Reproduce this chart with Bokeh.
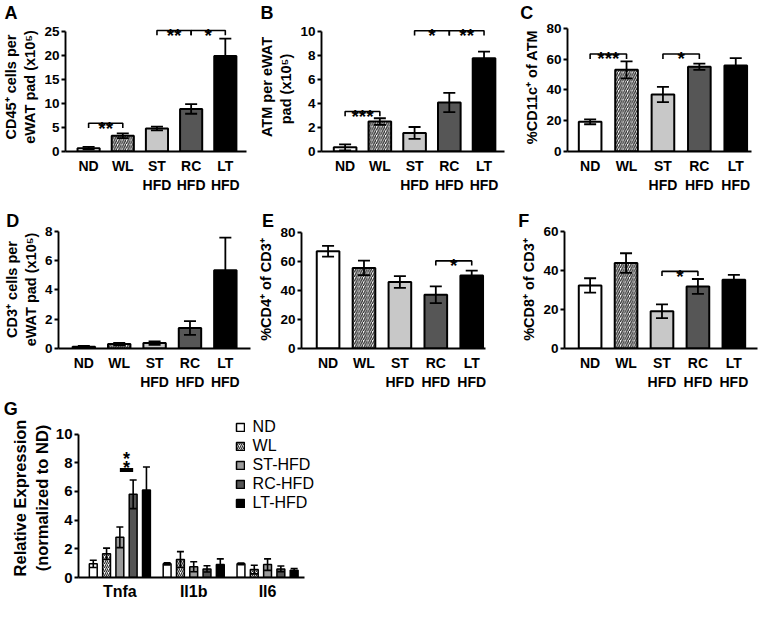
from bokeh.plotting import figure
from bokeh.models import (ColumnDataSource, FixedTicker, Legend, LegendItem,
                          Range1d, TeeHead, Whisker)
from bokeh.layouts import column, row
from bokeh.embed import file_html
from bokeh.resources import INLINE
from bokeh.core.properties import value

# ---------------- data ----------------
groups = ["ND", "WL", "ST-HFD", "RC-HFD", "LT-HFD"]
group_ticks = ["ND", "WL", "ST\nHFD", "RC\nHFD", "LT\nHFD"]

a_vals = [0.7, 3.3, 4.8, 8.9, 20.0]
a_err = [0.25, 0.5, 0.4, 1.0, 3.6]
a_yticks = [0, 5, 10, 15, 20, 25]
a_sig = [("ND", "WL", 5.9, "**"), ("ST-HFD", "RC-HFD", 25.3, "**"), ("RC-HFD", "LT-HFD", 25.3, "*")]

b_vals = [0.35, 2.5, 1.55, 4.1, 7.8]
b_err = [0.25, 0.28, 0.5, 0.8, 0.55]
b_yticks = [0, 2, 4, 6, 8, 10]
b_sig = [("ND", "WL", 3.35, "***"), ("ST-HFD", "RC-HFD", 10.1, "*"), ("RC-HFD", "LT-HFD", 10.1, "**")]

c_vals = [19.3, 53.0, 37.0, 55.0, 55.8]
c_err = [1.6, 5.5, 5.0, 2.0, 4.8]
c_yticks = [0, 20, 40, 60, 80]
c_sig = [("ND", "WL", 63.3, "***"), ("ST-HFD", "RC-HFD", 63.3, "*")]

d_vals = [0.12, 0.3, 0.37, 1.4, 5.35]
d_err = [0.06, 0.08, 0.12, 0.47, 2.22]
d_yticks = [0, 2, 4, 6, 8]
d_sig = []

e_vals = [67.0, 55.5, 45.8, 37.0, 50.2]
e_err = [3.7, 5.0, 4.0, 5.8, 3.4]
e_yticks = [0, 20, 40, 60, 80]
e_sig = [("RC-HFD", "LT-HFD", 60.3, "*")]

f_vals = [32.3, 43.8, 19.1, 31.8, 35.2]
f_err = [3.7, 5.0, 3.5, 3.8, 2.5]
f_yticks = [0, 20, 40, 60]
f_sig = [("ST-HFD", "RC-HFD", 39.5, "*")]

genes = ["Tnfa", "Il1b", "Il6"]
g_nd = [0.95, 0.95, 0.95]
g_nd_err = [0.25, 0.07, 0.06]
g_wl = [1.65, 1.25, 0.55]
g_wl_err = [0.4, 0.55, 0.3]
g_st = [2.8, 0.75, 0.9]
g_st_err = [0.72, 0.35, 0.4]
g_rc = [5.8, 0.6, 0.6]
g_rc_err = [1.0, 0.22, 0.2]
g_lt = [6.1, 0.9, 0.5]
g_lt_err = [1.6, 0.4, 0.13]
g_yticks = [0, 2, 4, 6, 8, 10]
g_sig = ("Tnfa", "ST-HFD", "RC-HFD", 7.5)
g_sig_stars = [8.75, 8.1]

# ---------------- styles ----------------
FONT = "Liberation Sans"
fill_af = {"ND": "#ffffff", "WL": "#ffffff", "ST-HFD": "#c8c8c8", "RC-HFD": "#565656", "LT-HFD": "#000000"}
fill_g = {"ND": "#ffffff", "WL": "#ffffff", "ST-HFD": "#9a9a9a", "RC-HFD": "#555555", "LT-HFD": "#000000"}
hatch_map = {"WL": "/"}


def R(x):
    return (x - 4) * 0.985


def RY(y):
    return (y - 3) * 0.98


def make_fig(geom, x0, x1, y_end):
    fx0, fy0, fx1, fy1 = geom["fig"]
    W = round(R(fx1) - R(fx0))
    H = round(RY(fy1) - RY(fy0))
    bl = round(R(geom["left"]) - R(fx0))
    fw = round(R(geom["right"]) - R(geom["left"]))
    bt = round(RY(geom["top"]) - RY(fy0))
    fh = round(RY(geom["y0"]) - RY(geom["top"]))
    p = figure(width=W, height=H, x_range=Range1d(x0, x1), y_range=Range1d(0, y_end),
               output_backend="svg", toolbar_location=None,
               min_border_left=bl, min_border_right=W - bl - fw,
               min_border_top=bt, min_border_bottom=H - bt - fh)
    p.outline_line_color = None
    p.grid.visible = False
    p.background_fill_color = "white"
    p.border_fill_color = "white"
    # panel letter as the figure title, shifted left onto the letter position
    p.title.text = geom["name"]
    p.title.align = "left"
    p.title.offset = R(geom["letter_x"]) - R(geom["left"])
    p.title.standoff = 0
    p.title.text_font = FONT
    p.title.text_font_style = "bold"
    p.title.text_font_size = "18px"
    p.title.text_color = "black"
    return p


def style_axes(p, yticks, ylabel, tick_fs, xlab_fs, ylab_fs, ylab_standoff=3):
    for ax in (p.xaxis[0], p.yaxis[0]):
        ax.axis_line_color = "black"
        ax.axis_line_width = 1.9
        ax.major_tick_line_color = "black"
        ax.major_tick_line_width = 1.9
        ax.minor_tick_line_color = None
        ax.major_label_text_font = FONT
        ax.major_label_text_font_style = "bold"
        ax.major_label_text_color = "black"
        ax.axis_label_text_font = FONT
        ax.axis_label_text_font_style = "bold"
        ax.axis_label_text_color = "black"
    ya = p.yaxis[0]
    ya.ticker = FixedTicker(ticks=yticks)
    ya.bounds = (0, yticks[-1])
    ya.major_tick_out = 4
    ya.major_tick_in = 0
    ya.major_label_standoff = 2
    ya.major_label_text_font_size = tick_fs
    ya.axis_label = ylabel
    ya.axis_label_text_font_size = ylab_fs
    ya.axis_label_standoff = ylab_standoff
    xa = p.xaxis[0]
    xa.major_tick_out = 0
    xa.major_tick_in = 0
    xa.major_label_standoff = 6
    xa.major_label_text_font_size = xlab_fs


def make_panel(name, ylabel, vals, errs, yticks, sigs, geom):
    s = geom["s"]
    c1 = geom["c1"]
    x0 = 1 + (geom["left"] - c1) / s
    x1 = 1 + (geom["right"] - c1) / s
    ymax = yticks[-1]
    y_end = ymax * (geom["y0"] - geom["top"]) / (geom["y0"] - geom["ymax_px"])
    geom = dict(geom, name=name)
    p = make_fig(geom, x0, x1, y_end)

    idx = {g: i + 1 for i, g in enumerate(groups)}
    src = ColumnDataSource(dict(
        x=[idx[g] for g in groups], top=vals,
        upper=[v + e for v, e in zip(vals, errs)],
        lower=[max(0, v - e) for v, e in zip(vals, errs)],
        fill=[fill_af[g] for g in groups],
        hatch=[hatch_map.get(g, " ") for g in groups]))
    p.vbar(x="x", top="top", bottom=0, width=23 / s, source=src, fill_color="fill",
           line_color="black", line_width=2, hatch_pattern="hatch",
           hatch_color="#2a2a2a", hatch_scale=4.5, hatch_weight=1.3)
    p.add_layout(Whisker(source=src, base="x", upper="upper", lower="lower", level="overlay",
                         line_color="black", line_width=1.8,
                         upper_head=TeeHead(size=12, line_width=1.8, line_color="black"),
                         lower_head=TeeHead(size=12, line_width=1.8, line_color="black")))
    if sigs:
        drop = 0.04 * ymax
        p.multi_line(xs=[[idx[a], idx[a], idx[b], idx[b]] for a, b, h, _ in sigs],
                     ys=[[h - drop, h, h, h - drop] for a, b, h, _ in sigs],
                     line_color="black", line_width=1.6)
        p.text(x=[(idx[a] + idx[b]) / 2 for a, b, h, _ in sigs], y=[h for a, b, h, _ in sigs],
               text=[t for a, b, h, t in sigs], text_align="center", text_baseline="alphabetic",
               y_offset=5, text_font=value(FONT), text_font_style="bold",
               text_font_size="19px", text_color="black")

    style_axes(p, yticks, ylabel, "13.5px", "14px", "14.5px")
    p.xaxis[0].ticker = FixedTicker(ticks=[idx[g] for g in groups])
    p.xaxis[0].major_label_overrides = {idx[g]: t for g, t in zip(groups, group_ticks)}
    return p


geoms = {
    "A": dict(fig=(4, 3, 258, 203), left=66, right=254, top=23, y0=159, ymax_px=33, c1=90, s=35.5, letter_x=4),
    "B": dict(fig=(258, 3, 522, 203), left=330, right=516, top=23, y0=159, ymax_px=33, c1=354, s=35.3, letter_x=268),
    "C": dict(fig=(522, 3, 780, 203), left=580, right=767, top=22, y0=157, ymax_px=28, c1=603, s=37.0, letter_x=532),
    "D": dict(fig=(4, 203, 263, 403), left=61, right=258, top=238, y0=369, ymax_px=239, c1=87, s=36.3, letter_x=8),
    "E": dict(fig=(263, 203, 515, 403), left=310, right=497, top=238, y0=369, ymax_px=240, c1=337, s=36.5, letter_x=270),
    "F": dict(fig=(515, 203, 780, 403), left=577, right=773, top=238, y0=369, ymax_px=239, c1=603, s=36.5, letter_x=530),
}

pa = make_panel("A", "CD45\u207a cells per\neWAT pad (x10\u2075)", a_vals, a_err, a_yticks, a_sig, geoms["A"])
pb = make_panel("B", "ATM per eWAT\npad  (x10\u2075)", b_vals, b_err, b_yticks, b_sig, geoms["B"])
pc = make_panel("C", "%CD11c\u207a of ATM", c_vals, c_err, c_yticks, c_sig, geoms["C"])
pd = make_panel("D", "CD3\u207a cells per\neWAT pad (x10\u2075)", d_vals, d_err, d_yticks, d_sig, geoms["D"])
pe = make_panel("E", "%CD4\u207a of CD3\u207a", e_vals, e_err, e_yticks, e_sig, geoms["E"])
pf = make_panel("F", "%CD8\u207a of CD3\u207a", f_vals, f_err, f_yticks, f_sig, geoms["F"])

# ---------------- panel G ----------------
g_geom = dict(fig=(4, 403, 400, 617), left=83, right=345, axis_end=313, top=430, y0=594,
              ymax_px=446, c1=125, s=75.0, letter_x=7, name="G")
gs = g_geom["s"]
gx0 = 1 + (g_geom["left"] - g_geom["c1"]) / gs
gx1 = 1 + (g_geom["right"] - g_geom["c1"]) / gs
gaxis_end = 1 + (g_geom["axis_end"] - g_geom["c1"]) / gs
gymax = g_yticks[-1]
gy_end = gymax * (g_geom["y0"] - g_geom["top"]) / (g_geom["y0"] - g_geom["ymax_px"])
pg = make_fig(g_geom, gx0, gx1, gy_end)

gidx = {g: i + 1 for i, g in enumerate(genes)}
bar_step = 13.5 / gs
series = {"ND": (g_nd, g_nd_err), "WL": (g_wl, g_wl_err), "ST-HFD": (g_st, g_st_err),
          "RC-HFD": (g_rc, g_rc_err), "LT-HFD": (g_lt, g_lt_err)}
offset = {g: (k - 2) * bar_step for k, g in enumerate(groups)}
items = []
for g in groups:
    vals, errs = series[g]
    src = ColumnDataSource(dict(
        x=[gidx[n] + offset[g] for n in genes], top=vals,
        upper=[v + e for v, e in zip(vals, errs)],
        lower=[max(0, v - e) for v, e in zip(vals, errs)]))
    r = pg.vbar(x="x", top="top", bottom=0, width=8 / gs, source=src, fill_color=fill_g[g],
                line_color="black", line_width=1.5, hatch_pattern=hatch_map.get(g, " "),
                hatch_color="#2a2a2a", hatch_scale=4, hatch_weight=1.1)
    pg.add_layout(Whisker(source=src, base="x", upper="upper", lower="lower", level="overlay",
                          line_color="black", line_width=1.6,
                          upper_head=TeeHead(size=7, line_width=1.6, line_color="black"),
                          lower_head=TeeHead(size=7, line_width=1.6, line_color="black")))
    items.append(LegendItem(label=g, renderers=[r]))

sg_gene, sg_a, sg_b, sg_h = g_sig
pg.line(x=[gidx[sg_gene] + offset[sg_a], gidx[sg_gene] + offset[sg_b]], y=[sg_h, sg_h],
        line_color="black", line_width=4)
smid = gidx[sg_gene] + (offset[sg_a] + offset[sg_b]) / 2
pg.text(x=[smid] * len(g_sig_stars), y=g_sig_stars, text=["*"] * len(g_sig_stars),
        text_align="center", text_baseline="alphabetic", y_offset=7,
        text_font=value(FONT), text_font_style="bold", text_font_size="18px", text_color="black")

legend = Legend(items=items,
                location=(R(242) - R(g_geom["left"]), RY(g_geom["y0"]) - RY(528)),
                label_text_font=FONT, label_text_font_size="16px", label_text_color="black",
                glyph_width=10, glyph_height=10, label_height=18, label_standoff=8,
                spacing=1, padding=0, margin=0, border_line_color=None,
                background_fill_alpha=0)
pg.add_layout(legend)

style_axes(pg, g_yticks, "Relative Expression\n(normalized to ND)", "15px", "16px", "16.5px",
           ylab_standoff=2)
pg.xaxis[0].ticker = FixedTicker(ticks=[gidx[n] for n in genes])
pg.xaxis[0].major_label_overrides = {gidx[n]: n for n in genes}
pg.xaxis[0].bounds = (gx0, gaxis_end)
pg.xaxis[0].major_label_standoff = 5

layout = column(row(pa, pb, pc), row(pd, pe, pf), row(pg))
open("out.html", "w").write(file_html(layout, INLINE, title="Figure"))
